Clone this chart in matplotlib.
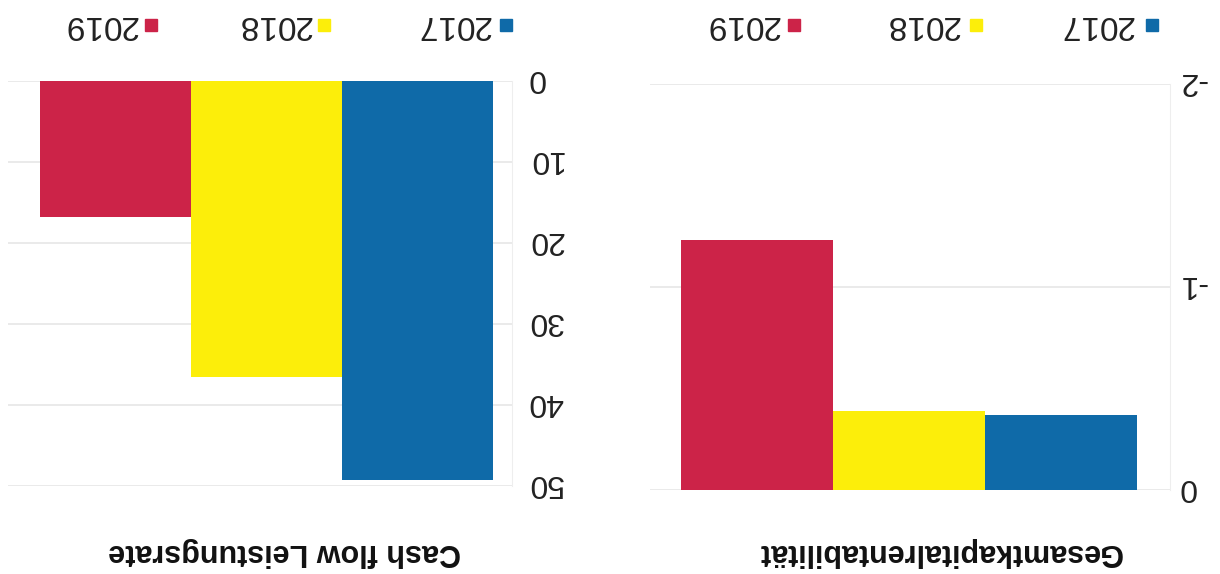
import matplotlib
matplotlib.use("Agg")
import matplotlib.pyplot as plt
import matplotlib.transforms as mtransforms
from matplotlib.patches import Rectangle

# the scanned page is upside down, so everything is drawn turned by 180 degrees
years = ["2017", "2018", "2019"]
colors = ["#0f6aa8", "#fcee0a", "#cc2348"]

gk_title = "Gesamtkapitalrentabilität"
gk_values = [-0.37, -0.39, -1.23]
gk_ticks = [0, -1, -2]

cf_title = "Cash flow Leistungsrate"
cf_values = [49.3, 36.5, 16.8]
cf_ticks = [0, 10, 20, 30, 40, 50]

W, H = 1220, 574
plt.rcParams['font.family'] = ['Liberation Sans', 'DejaVu Sans']
fig = plt.figure(figsize=(W / 100, H / 100), dpi=100)


def px_axes(x0, x1, ytop, ybot):
    return fig.add_axes([x0 / W, 1 - ybot / H, (x1 - x0) / W, (ybot - ytop) / H])


def panel(ax, values, ticks, xlim, ylim, pad):
    ax.bar(range(len(values)), values, width=1.0, color=colors, zorder=2)
    ax.set_xlim(*xlim)
    ax.set_ylim(*ylim)
    ax.set_yticks(ticks)
    ax.set_yticklabels([str(t) for t in ticks], rotation=180, fontsize=23,
                       color="#222222", va="center")
    ax.yaxis.tick_right()
    ax.tick_params(axis="y", length=0, pad=pad)
    # nudge upside-down labels so the digits sit on the gridlines
    shift = mtransforms.ScaledTranslation(0, 3 / 100, fig.dpi_scale_trans)
    for lab in ax.get_yticklabels():
        lab.set_transform(lab.get_transform() + shift)
    ax.set_xticks([])
    ax.grid(axis="y", color="#e6e6e6", linewidth=1.2, zorder=0)
    for s in ["top", "bottom", "left"]:
        ax.spines[s].set_visible(False)
    ax.spines["right"].set_color("#eeeeee")


ax1 = px_axes(8, 512, 81, 486)
panel(ax1, cf_values, cf_ticks, (2.712, -0.626), (50, 0), 11)

ax2 = px_axes(650, 1170, 84, 490)
panel(ax2, gk_values, gk_ticks, (2.703, -0.718), (0, -2), 6)


def title(x, txt):
    fig.text(x / W, 1 - 552 / H, txt, rotation=180, fontsize=22,
             fontweight="bold", ha="center", va="center", color="#111111")


title(285, cf_title)
title(940, gk_title)


def legend(sq_x, txt_x):
    for sx, tx, yr, c in zip(sq_x, txt_x, years, colors):
        fig.patches.append(Rectangle(((sx - 6) / W, 1 - 31 / H), 12 / W, 12 / H,
                                     transform=fig.transFigure, color=c))
        fig.text(tx / W, 1 - 24 / H, yr, rotation=180, fontsize=24,
                 ha="center", va="center", color="#222222")


legend([506, 324, 151], [453, 274, 100])
legend([1152, 976, 794], [1096, 922, 742])

fig.savefig("out.png", dpi=100, facecolor="white")
